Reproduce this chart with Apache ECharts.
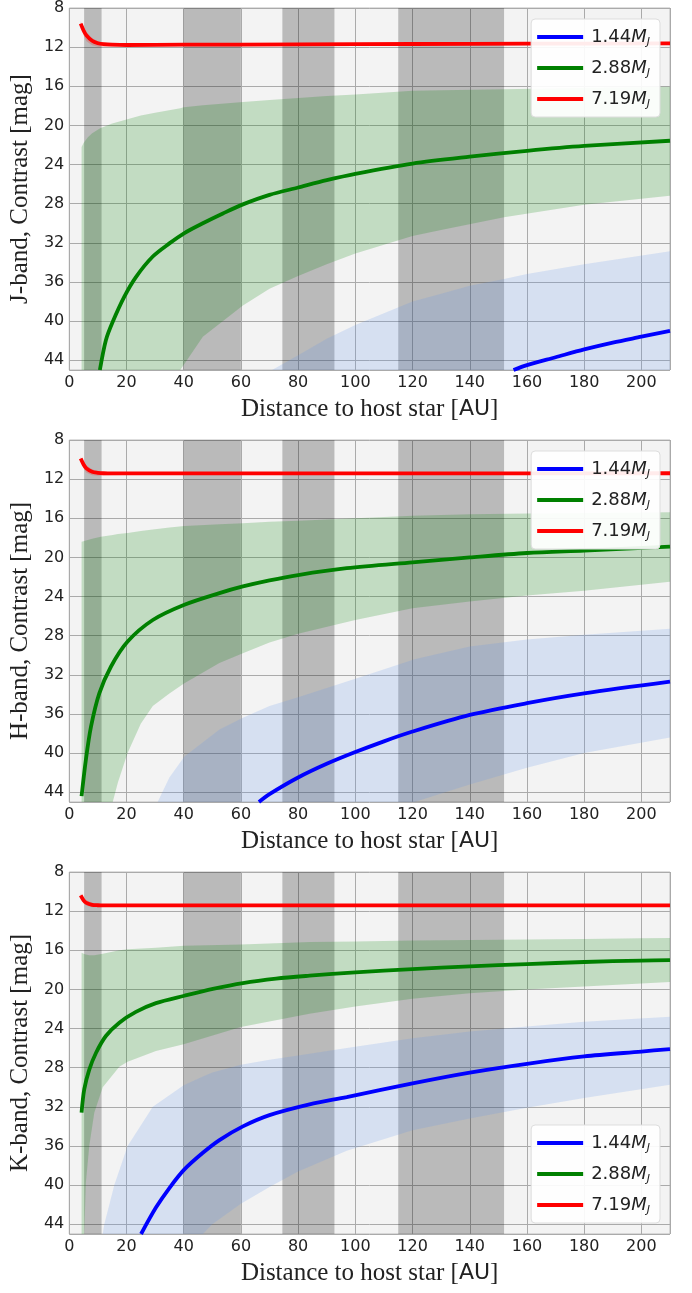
<!DOCTYPE html>
<html><head><meta charset="utf-8">
<script src="https://cdn.jsdelivr.net/npm/echarts@6/dist/echarts.min.js"></script>
<style>html,body{margin:0;padding:0;background:#fff}#c{width:692px;height:1293px}</style>
</head><body><div id="c"></div>
<script>
// ---------- shared ----------
const massLabels = ['1.44', '2.88', '7.19'];
const shadedRanges = [[5.2, 11.3], [40, 60], [74.5, 92.7], [115, 152]];
const bandNames = ['J', 'H', 'K'];
const xTickStep = 20;
const yTickStep = 4;

// ---------- J band ----------
const J_redX = [4, 5, 6, 8, 10, 12, 15, 20, 40, 80, 120, 160, 210];
const J_red = [9.6, 10.3, 10.8, 11.35, 11.6, 11.7, 11.75, 11.78, 11.75, 11.72, 11.68, 11.65, 11.62];
const J_redUp = [9.35, 9.95, 10.45, 11.1, 11.4, 11.52, 11.6, 11.63, 11.62, 11.6, 11.56, 11.54, 11.5];
const J_redLo = [9.9, 10.8, 11.4, 11.8, 11.95, 11.98, 11.95, 11.92, 11.88, 11.85, 11.82, 11.8, 11.78];
const J_greenX = [10.7, 12.8, 15.2, 19.25, 23.3, 29.2, 35, 40.25, 46.7, 53.7, 60.7, 70, 80, 90, 100, 120, 140, 160, 180, 210];
const J_green = [45, 41.95, 40.07, 37.5, 35.5, 33.4, 32.06, 31.0, 30.0, 29.0, 28.07, 27.1, 26.35, 25.6, 24.95, 23.9, 23.2, 22.6, 22.1, 21.57];
const J_gBandX = [4.3, 5, 6.5, 8, 10.8, 15, 20, 25, 30, 38.8, 40, 46.7, 60.7, 70, 80, 90, 100, 120, 130, 152, 180, 210];
const J_gBandUp = [22.2, 21.8, 21.2, 20.8, 20.3, 19.8, 19.4, 19.0, 18.7, 18.25, 18.15, 17.95, 17.6, 17.4, 17.2, 17.0, 16.85, 16.45, 16.4, 16.3, 16.15, 16.05];
const J_gBandLo = [45, 45, 45, 45, 45, 45, 45, 45, 45, 45, 44.5, 41.6, 38.4, 36.7, 35.4, 34.2, 33.1, 31.3, 30.7, 29.4, 28.1, 27.2];
const J_bBandX = [70.9, 80, 90, 100, 120, 130, 140, 152, 160, 180, 210];
const J_bBandUp = [45, 43.5, 41.8, 40.4, 38.0, 37.2, 36.4, 35.7, 35.2, 34.2, 32.85];
const J_bBandLo = [45, 45, 45, 45, 45, 45, 45, 45, 45, 45, 45];
const J_blueX = [155.3, 160, 170, 180, 190, 200, 210];
const J_blue = [45, 44.5, 43.7, 42.9, 42.2, 41.6, 41.0];

// ---------- H band ----------
const H_redX = [4, 5, 6, 8, 10, 12, 15, 20, 40, 80, 120, 160, 210];
const H_red = [9.9, 10.5, 10.9, 11.25, 11.35, 11.4, 11.42, 11.42, 11.42, 11.42, 11.42, 11.42, 11.4];
const H_redUp = [9.7, 10.2, 10.6, 11.0, 11.2, 11.28, 11.3, 11.3, 11.3, 11.3, 11.3, 11.3, 11.28];
const H_redLo = [10.2, 10.9, 11.35, 11.6, 11.65, 11.62, 11.6, 11.58, 11.56, 11.55, 11.55, 11.55, 11.53];
const H_greenX = [4.3, 5.8, 7.6, 10.5, 14.6, 20.4, 29.2, 40.25, 52.5, 60.7, 70, 80, 97, 120, 140, 160, 180, 210];
const H_green = [44.4, 40.7, 37.3, 33.9, 31.15, 28.6, 26.4, 24.84, 23.65, 22.97, 22.35, 21.8, 21.1, 20.5, 20.0, 19.55, 19.3, 18.9];
const H_gBandX = [4.3, 8, 11, 15.2, 17, 20.4, 25, 29.2, 35, 40.25, 52.5, 60.7, 70, 80, 100, 120, 140, 160, 180, 210];
const H_gBandUp = [18.4, 18.1, 17.9, 17.7, 17.6, 17.5, 17.3, 17.15, 16.95, 16.8, 16.6, 16.5, 16.35, 16.25, 16.0, 15.75, 15.6, 15.5, 15.45, 15.38];
const H_gBandLo = [45, 45, 45, 45, 43, 40.0, 37.0, 35.2, 33.9, 32.85, 30.8, 29.8, 28.7, 27.8, 26.4, 25.2, 24.5, 23.9, 23.4, 22.5];
const H_bBandX = [30.9, 35, 40.25, 52.5, 60.7, 70, 80, 100, 120.7, 140, 160, 180, 210];
const H_bBandUp = [45, 42.5, 40.35, 37.6, 36.4, 35.2, 34.3, 32.4, 30.4, 29.1, 28.4, 27.9, 27.3];
const H_bBandLo = [45, 45, 45, 45, 45, 45, 45, 45, 45, 43.2, 41.5, 40.0, 38.4];
const H_blueX = [66.3, 70, 80, 90, 100, 110, 120, 140, 160, 180, 210];
const H_blue = [45, 44.2, 42.5, 41.1, 39.9, 38.8, 37.8, 36.1, 34.9, 33.9, 32.7];

// ---------- K band ----------
const K_redX = [4, 5, 6, 8, 10, 12, 15, 20, 40, 80, 120, 160, 210];
const K_red = [10.4, 10.9, 11.15, 11.35, 11.4, 11.42, 11.42, 11.42, 11.42, 11.42, 11.42, 11.41, 11.41];
const K_redUp = [10.2, 10.6, 10.9, 11.15, 11.25, 11.28, 11.3, 11.3, 11.3, 11.3, 11.3, 11.3, 11.3];
const K_redLo = [10.6, 11.2, 11.45, 11.6, 11.6, 11.58, 11.56, 11.55, 11.55, 11.55, 11.55, 11.54, 11.54];
const K_greenX = [4.3, 5.25, 7.0, 9.33, 12.8, 17.5, 23.3, 30.3, 40.25, 50.2, 60.7, 72.3, 84, 100, 120, 140, 160, 180, 200, 210];
const K_green = [32.6, 30.2, 28.2, 26.5, 24.76, 23.4, 22.3, 21.4, 20.65, 19.95, 19.35, 18.9, 18.6, 18.25, 17.92, 17.65, 17.41, 17.2, 17.05, 17.0];
const K_gBandX = [4.3, 5.25, 5.8, 7.0, 8.75, 11.7, 17.5, 20.4, 30.3, 40, 60, 84, 100, 120, 140, 160, 180, 200, 210];
const K_gBandUp = [16.25, 16.38, 16.43, 16.5, 16.5, 16.35, 16.0, 15.9, 15.75, 15.55, 15.4, 15.15, 15.1, 15.0, 14.95, 14.9, 14.85, 14.78, 14.75];
const K_gBandLo = [45, 45, 39.8, 36.0, 32.6, 30.0, 27.9, 27.4, 26.3, 25.6, 23.85, 22.5, 21.74, 20.95, 20.4, 20.0, 19.7, 19.4, 19.25];
const K_bBandX = [11.7, 12.25, 15.75, 20.4, 29.2, 40, 46.7, 50, 60, 70, 80, 97, 120, 140, 160, 180, 210];
const K_bBandUp = [45, 44, 40, 36, 32, 29.8, 28.9, 28.5, 27.7, 27.2, 26.75, 26.0, 25.0, 24.3, 23.8, 23.3, 22.8];
const K_bBandLo = [45, 45, 45, 45, 45, 45, 45, 44.0, 41.9, 40.2, 38.6, 36.5, 34.4, 33.2, 32.1, 31.1, 29.75];
const K_blueX = [25.1, 30.3, 35, 40.25, 46.7, 52.5, 60.7, 70, 84, 97, 120, 140, 160, 180, 200, 210];
const K_blue = [45, 42.3, 40.3, 38.4, 36.7, 35.4, 34.0, 32.85, 31.75, 31.0, 29.6, 28.5, 27.6, 26.85, 26.35, 26.1];

// ---------- build ----------
const panels = [
  {red:[J_redX,J_red,J_redUp,J_redLo], green:[J_greenX,J_green], gBand:[J_gBandX,J_gBandUp,J_gBandLo], bBand:[J_bBandX,J_bBandUp,J_bBandLo], blue:[J_blueX,J_blue]},
  {red:[H_redX,H_red,H_redUp,H_redLo], green:[H_greenX,H_green], gBand:[H_gBandX,H_gBandUp,H_gBandLo], bBand:[H_bBandX,H_bBandUp,H_bBandLo], blue:[H_blueX,H_blue]},
  {red:[K_redX,K_red,K_redUp,K_redLo], green:[K_greenX,K_green], gBand:[K_gBandX,K_gBandUp,K_gBandLo], bBand:[K_bBandX,K_bBandUp,K_bBandLo], blue:[K_blueX,K_blue]}
];
const zip = (xs, ys) => xs.map((x, i) => [x, ys[i]]);
const SERIF = 'Liberation Serif';
const SANS = 'DejaVu Sans';
const tops = [8, 440, 872];
const gridH = 362;

function bandSeries(k, band, color) {
  const [xs, up, lo] = band;
  return {
    type: 'custom', coordinateSystem: 'cartesian2d', xAxisIndex: k, yAxisIndex: k,
    silent: true, z: 2, clip: true, animation: false,
    data: [[xs[0], up[0]]],
    renderItem: (params, api) => {
      const pts = [];
      for (let i = 0; i < xs.length; i++) pts.push(api.coord([xs[i], up[i]]));
      for (let i = xs.length - 1; i >= 0; i--) pts.push(api.coord([xs[i], lo[i]]));
      return {type: 'polygon', shape: {points: pts}, style: {fill: color, stroke: null}};
    }
  };
}

const grids = [], xAxes = [], yAxes = [], series = [], legends = [];
panels.forEach((p, k) => {
  grids.push({left: 69, width: 601, top: tops[k], height: gridH, show: true,
    backgroundColor: '#f3f3f3', borderColor: '#bdbdbd', borderWidth: 1});
  xAxes.push({type: 'value', gridIndex: k, min: 0, max: 210, interval: xTickStep,
    axisLine: {show: false}, axisTick: {show: false},
    splitLine: {show: true, lineStyle: {color: '#aaaaaa', width: 1}},
    axisLabel: {fontFamily: SANS, fontSize: 16, color: '#222', margin: 5,
      formatter: v => (v % xTickStep === 0 ? String(v) : '')},
    name: 'Distance to host star [{s|AU}]', nameLocation: 'middle', nameGap: 27,
    nameTextStyle: {fontFamily: SERIF, fontSize: 25, color: '#222',
      rich: {s: {fontFamily: SANS, fontSize: 22, color: '#222'}}}
  });
  yAxes.push({type: 'value', gridIndex: k, inverse: true, min: 8, max: 45, interval: yTickStep,
    axisLine: {show: false}, axisTick: {show: false},
    splitLine: {show: true, lineStyle: {color: '#aaaaaa', width: 1}},
    axisLabel: {fontFamily: SANS, fontSize: 16, color: '#222', margin: 5,
      formatter: v => (v % yTickStep === 0 ? String(v) : '')},
    name: bandNames[k] + '-band, Contrast [mag]', nameLocation: 'middle', nameGap: 34,
    nameTextStyle: {fontFamily: SERIF, fontSize: 25, color: '#222'}
  });
  series.push(bandSeries(k, p.gBand, 'rgba(0,128,0,0.2)'));
  series.push(bandSeries(k, p.bBand, 'rgba(100,149,237,0.2)'));
  series.push(bandSeries(k, [p.red[0], p.red[2], p.red[3]], 'rgba(255,0,0,0.2)'));
  const common = {xAxisIndex: k, yAxisIndex: k, type: 'line', showSymbol: false, symbol: 'none',
    smooth: 0.3, silent: true, animation: false, z: 3};
  const lines = [[massLabels[0], '#0000ff', p.blue], [massLabels[1], '#008000', p.green], [massLabels[2], '#ff0000', p.red]];
  lines.forEach(([nm, col, d], i) => {
    const s = Object.assign({}, common, {name: nm, data: zip(d[0], d[1]),
      itemStyle: {color: col}, lineStyle: {color: col, width: 3.8}});
    if (i === 0) s.markArea = {silent: true, z: 1, itemStyle: {color: 'rgba(0,0,0,0.235)'},
      data: shadedRanges.map(r => [{xAxis: r[0]}, {xAxis: r[1]}])};
    series.push(s);
  });
  const lg = {data: massLabels, orient: 'vertical', right: 32,
    icon: 'rect', itemWidth: 46, itemHeight: 4, itemGap: 9,
    backgroundColor: 'rgba(255,255,255,0.92)', borderColor: '#dddddd', borderWidth: 1, borderRadius: 4,
    padding: [7, 10, 7, 6], selectedMode: false,
    formatter: n => n + '{m|M}{j|J}',
    textStyle: {fontFamily: SANS, fontSize: 18, color: '#222', lineHeight: 22, padding: [0, 0, 0, 3],
      rich: {m: {fontFamily: SANS, fontStyle: 'italic', fontSize: 18, color: '#222', lineHeight: 22},
             j: {fontFamily: SANS, fontStyle: 'italic', fontSize: 11, color: '#222', lineHeight: 12, verticalAlign: 'bottom'}}}
  };
  if (k < 2) lg.top = tops[k] + 11; else lg.bottom = 70;
  legends.push(lg);
});

const chart = echarts.init(document.getElementById('c'), null, {renderer: 'canvas'});
chart.setOption({animation: false, backgroundColor: '#ffffff', grid: grids, xAxis: xAxes, yAxis: yAxes,
  legend: legends, series: series});
</script></body></html>
